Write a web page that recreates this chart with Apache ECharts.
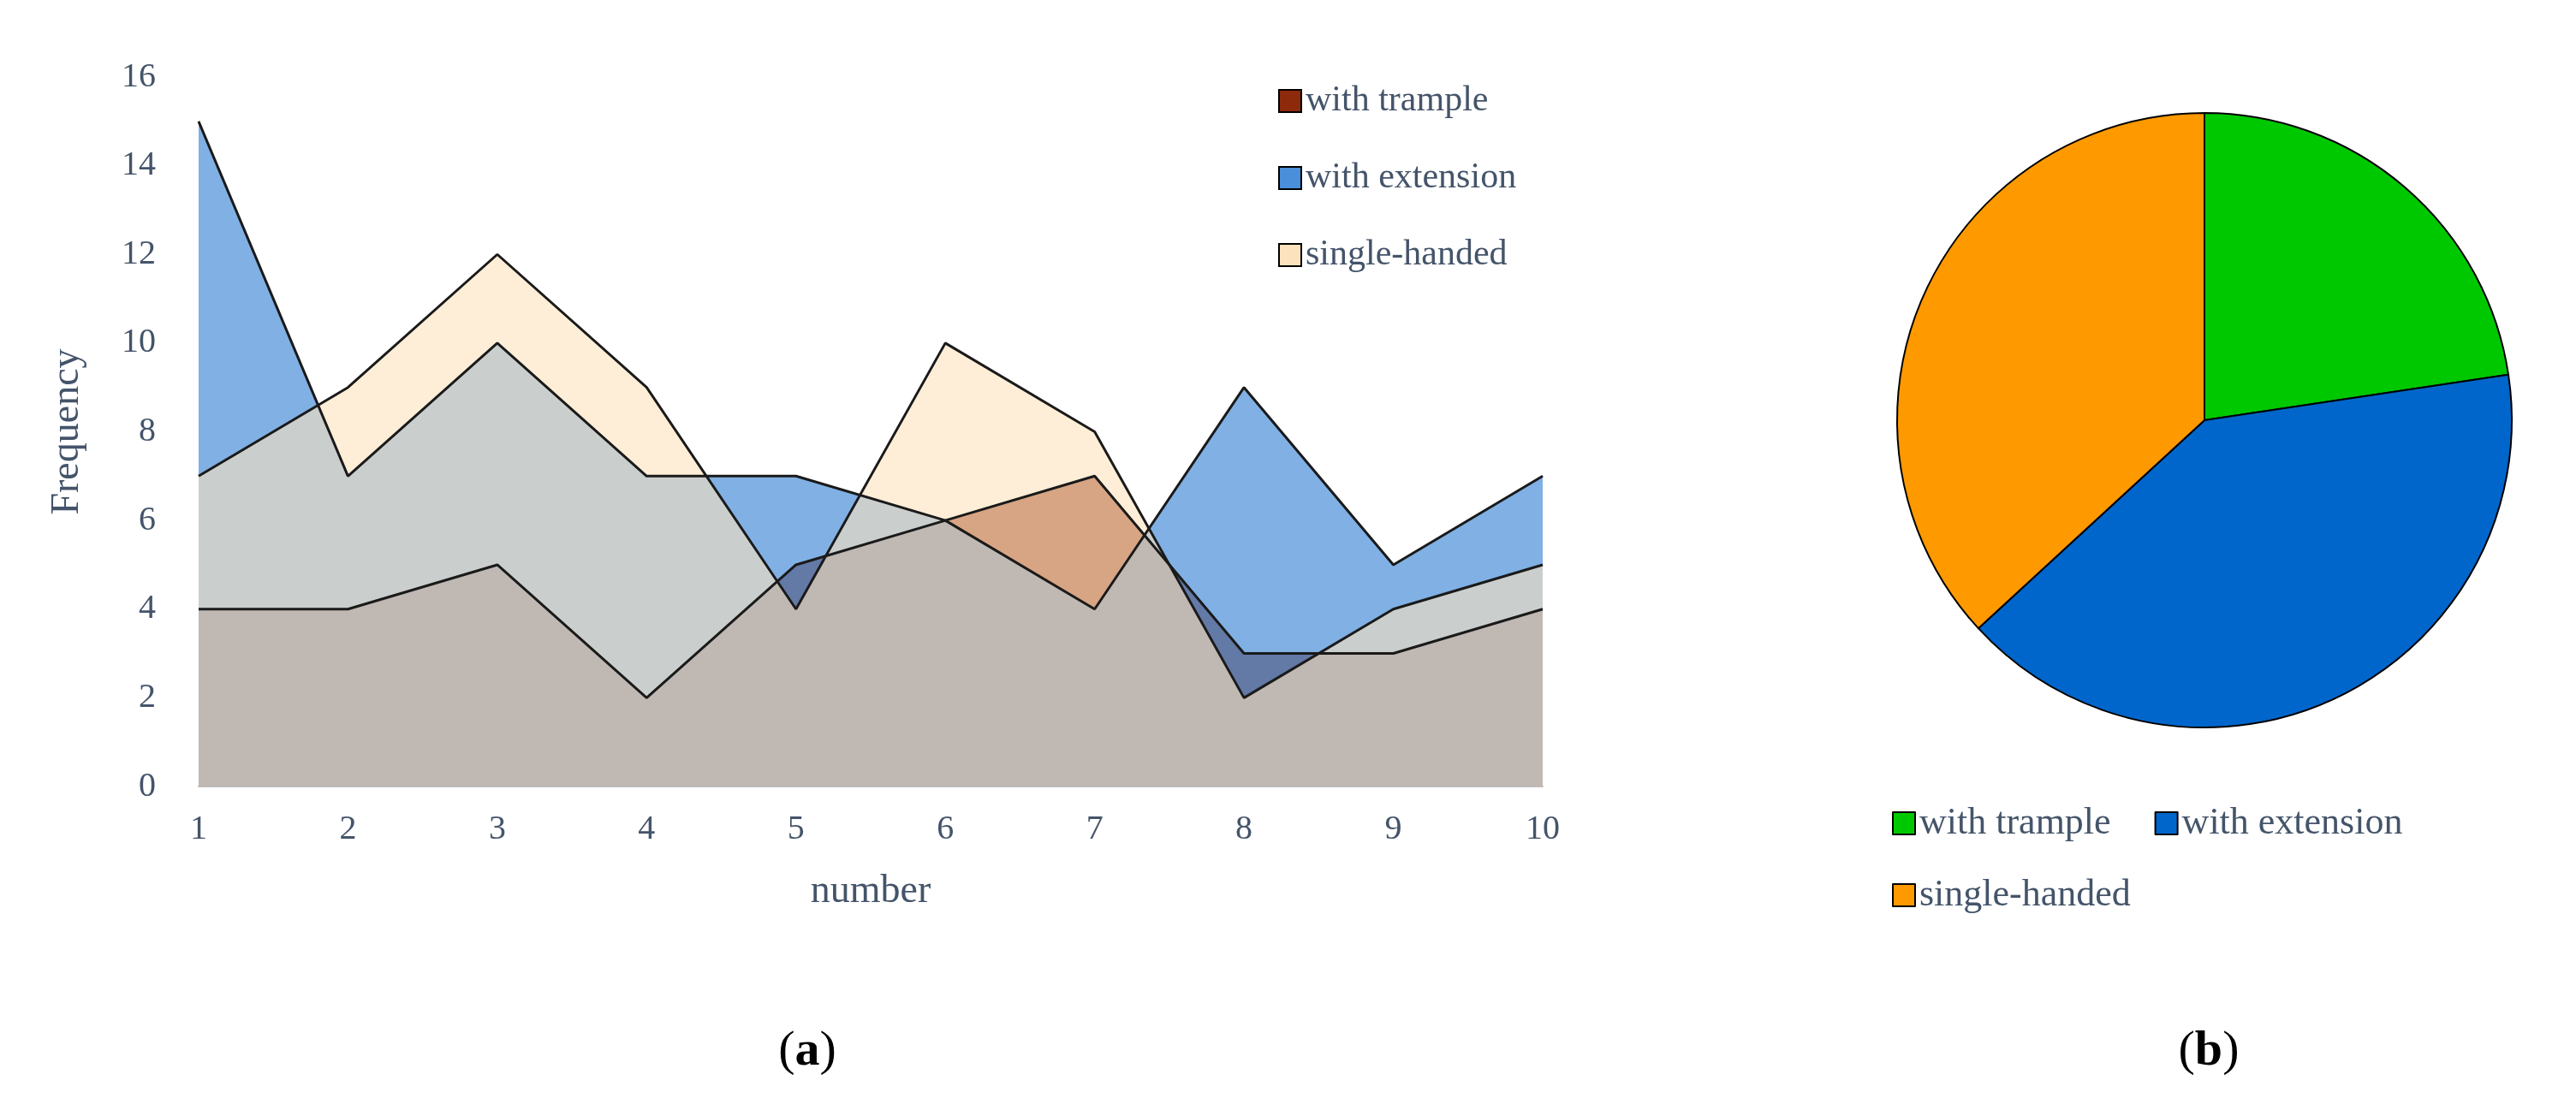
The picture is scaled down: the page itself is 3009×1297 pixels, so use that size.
<!DOCTYPE html>
<html><head><meta charset="utf-8">
<script src="https://cdn.jsdelivr.net/npm/echarts@6/dist/echarts.min.js"></script>
<style>html,body{margin:0;background:#fff}#c{width:3009px;height:1297px}</style>
</head><body><div id="c"></div>
<script>
var numbers = ['1','2','3','4','5','6','7','8','9','10'];
var trample = [4,4,5,2,5,6,7,3,3,4];
var extension = [15,7,10,7,7,6,4,9,5,7];
var singleHanded = [7,9,12,9,4,10,8,2,4,5];
var names = ['with trample','with extension','single-handed'];
var pieColors = ['#00c800','#0066cc','#ff9900'];

function sum(a){ return a.reduce(function(s,v){return s+v;},0); }

var font = 'Liberation Serif';
var txt = '#44546a';
var chart = echarts.init(document.getElementById('c'));
function area(name, data, color, op){
  return {name:name, type:'line', data:data, symbol:'none',
    lineStyle:{color:'#1a1a1a', width:3},
    itemStyle:{color:color, borderColor:'#000', borderWidth:2},
    areaStyle:{color:color, opacity:op}};
}
var cap = {fontFamily:font,fontSize:58,fontWeight:'normal',color:'#000',
  rich:{b:{fontFamily:font,fontSize:58,fontWeight:'bold',color:'#000'}}};
chart.setOption({
  animation:false,
  textStyle:{fontFamily:font},
  title:[
    {text:'({b|a})', left:938, top:1195, textAlign:'center', textStyle:cap},
    {text:'({b|b})', left:2575, top:1195, textAlign:'center', textStyle:cap}
  ],
  grid:{left:232, top:90, width:1570, height:829},
  xAxis:{type:'category', data:numbers, boundaryGap:false, name:'number', nameLocation:'middle', nameGap:100,
    nameTextStyle:{fontSize:46,color:txt,fontFamily:font},
    axisLine:{lineStyle:{color:'#bfbfbf',width:2}}, axisTick:{show:false},
    axisLabel:{fontSize:40,color:txt,margin:30,fontFamily:font}},
  yAxis:{type:'value', min:0, max:16, interval:2, name:'Frequency', nameLocation:'middle', nameGap:130,
    nameTextStyle:{fontSize:46,color:txt,fontFamily:font},
    splitLine:{show:false}, axisLine:{show:false}, axisTick:{show:false},
    axisLabel:{fontSize:40,color:txt,margin:50,fontFamily:font}},
  legend:[{data:names, orient:'vertical', left:1488, top:92, icon:'rect', itemWidth:26, itemHeight:26, itemGap:48,
    textStyle:{fontSize:42,color:txt,fontFamily:font}},
    {data:names.map(function(n,i){return {name:n+' ', itemStyle:{color:pieColors[i]}};}), icon:'rect', left:2205, top:935, width:800,
    itemWidth:26, itemHeight:26, itemGap:40,
    textStyle:{fontSize:44,color:txt,fontFamily:font}}],
  series:[
    area(names[0], trample, '#8e2a0c', 0.85),
    area(names[1], extension, '#4a8fd9', 0.7),
    area(names[2], singleHanded, '#fde3bd', 0.6),
    {type:'pie', center:[2575,491], radius:359, startAngle:90, clockwise:true,
      label:{show:false}, labelLine:{show:false},
      itemStyle:{borderColor:'#000', borderWidth:2},
      data:[trample,extension,singleHanded].map(function(d,i){
        return {name:names[i]+' ', value:sum(d), itemStyle:{color:pieColors[i]}};})}
  ]
});
</script></body></html>
